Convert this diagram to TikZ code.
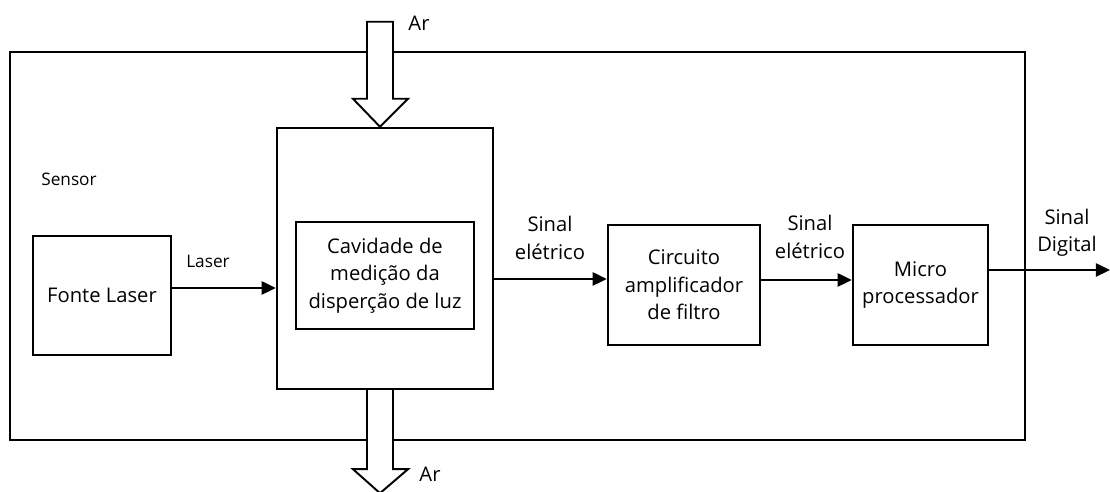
\documentclass[tikz,border=0pt]{standalone}
\usepackage{fontspec}
\setmainfont{Open Sans}
\usetikzlibrary{arrows.meta, positioning, calc}
\tikzstyle{bloco} = [rectangle, 
draw=black, 
line width=1.4pt, 
text centered, align=center, 
font=\fontsize{11.5}{15.6}\selectfont]
\tikzstyle{rotulo} = [align=center, font=\fontsize{11.5}{15.6}\selectfont]
\tikzstyle{rotulop} = [font=\fontsize{9.8}{12}\selectfont]
\tikzstyle{seta} = [line width=1.1pt,-{Triangle[length=8pt,width=7.5pt]}]
\tikzstyle{fluxo} = [draw=black, fill=white, line width=1.1pt, line join=miter]

\begin{document}
\begin{tikzpicture}[x=0.02cm, y=0.02cm]
    \useasboundingbox (0,0) rectangle (1110,492);
    % caixa do sensor
    \draw[line width=1.1pt] (10,52) rectangle (1025,440);
    \node[rotulop] (sensor) at (69,313) {Sensor};

    \node[bloco, minimum width=2.76cm, minimum height=2.38cm] (fonte) at (102,196.5) {Fonte Laser};
    \node[bloco, minimum width=4.32cm, minimum height=5.22cm] (cav) at (385,233.5) {};
    \node[bloco, minimum width=3.56cm, minimum height=2.14cm] (cavint) at (385,216.5) {Cavidade de\\medição da\\disperção de luz};
    \node[bloco, minimum width=3.04cm, minimum height=2.4cm] (circ) at (684,207) {Circuito\\amplificador\\de filtro};
    \node[bloco, minimum width=2.7cm, minimum height=2.4cm] (micro) at (920.5,207) {Micro\\processador};
    \coordinate (saida) at (1110,222);

    % sinais
    \draw[seta] ([yshift=0.15cm]fonte.east) -- ([yshift=0.15cm]fonte.east -| cav.west);
    \node[rotulop] (laser) at (208,231) {Laser};
    \draw[seta] ([yshift=0.12cm]circ.west -| cav.east) -- ([yshift=0.12cm]circ.west);
    \node[rotulo] (sinal1) at (550,254) {Sinal\\elétrico};
    \draw[seta] ([yshift=0.1cm]circ.east) -- ([yshift=0.1cm]circ.east -| micro.west);
    \node[rotulo] (sinal2) at (810,255) {Sinal\\elétrico};
    \draw[seta] (micro.east |- saida) -- (saida);
    \node[rotulo] (sinal3) at (1067,259) {Sinal\\Digital};

    % fluxo de ar
    \draw[fluxo] ($(cav.north)+(-18,105)$) -- ($(cav.north)+(8,105)$) -- ($(cav.north)+(8,28)$) -- ($(cav.north)+(23,28)$)
        -- ($(cav.north)+(-5,0)$) -- ($(cav.north)+(-32,28)$) -- ($(cav.north)+(-18,28)$) -- cycle;
    \node[rotulo] (ar1) at (419,469) {Ar};
    \draw[fluxo] ($(cav.south)+(-18,0)$) -- ($(cav.south)+(-18,-79)$) -- ($(cav.south)+(-32,-79)$) -- ($(cav.south)+(-5,-103)$)
        -- ($(cav.south)+(23,-79)$) -- ($(cav.south)+(8,-79)$) -- ($(cav.south)+(8,0)$);
    \node[rotulo] (ar2) at (430,18) {Ar};
\end{tikzpicture}
\end{document}
